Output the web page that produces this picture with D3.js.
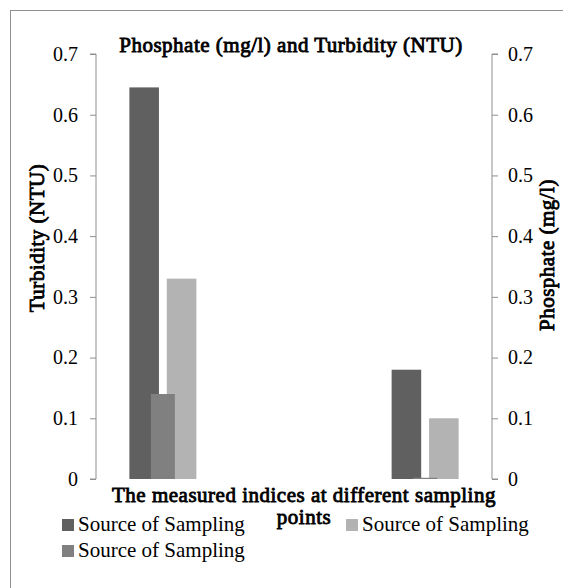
<!DOCTYPE html>
<html>
<head>
<meta charset="utf-8">
<script src="https://cdn.jsdelivr.net/npm/d3@7"></script>
<style>
  body { margin: 0; background: #fff; }
</style>
</head>
<body>
<div id="chart"></div>
<script>
// sampling points (no labels shown on the axis)
const categories = ["Point 1", "Point 2"];
const legendLabels = ["Source of Sampling", "Source of Sampling", "Source of Sampling"];
const darkValues = [0.645, 0.18];     // primary axis
const lightValues = [0.33, 0.10];     // primary axis
const mediumValues = [0.14, 0.002];   // secondary axis, drawn on top
const yTicks = [0, 0.1, 0.2, 0.3, 0.4, 0.5, 0.6, 0.7];

const width = 563, height = 588;
const margin = {top: 54, right: 71, bottom: 109, left: 96};
const serif = "'Liberation Serif', 'Times New Roman', Times, serif";

const colors = {dark: "#606060", medium: "#808080", light: "#b3b3b3"};

const svg = d3.select("#chart").append("svg")
    .attr("width", width)
    .attr("height", height)
    .style("font-family", serif);

// chart border (runs off the right and bottom edges)
svg.append("rect")
    .attr("x", 10.5).attr("y", 10.5)
    .attr("width", 700).attr("height", 700)
    .attr("fill", "none")
    .attr("stroke", "#8f8f8f");

const x = d3.scaleBand()
    .domain(categories)
    .range([margin.left, width - margin.right])
    .paddingInner(0.49)
    .paddingOuter(0);

const yLeft = d3.scaleLinear().domain([0, 0.7]).range([height - margin.bottom, margin.top]);
const yRight = d3.scaleLinear().domain([0, 0.7]).range([height - margin.bottom, margin.top]);

// primary series sit side by side, secondary one sits centred on top
const xPrimary = d3.scaleBand().domain(["dark", "light"]).range([-33.5, 33.5]).paddingInner(0.21);
const xSecondary = d3.scaleBand().domain(["medium"]).range([-12, 12]);

const centre = c => x(c) + x.bandwidth() / 2;

function drawBars(values, key, subScale, yScale) {
    svg.selectAll(".bar-" + key)
        .data(values)
        .enter().append("rect")
        .attr("class", "bar-" + key)
        .attr("x", (d, i) => centre(categories[i]) + subScale(key))
        .attr("width", subScale.bandwidth())
        .attr("y", d => yScale(d))
        .attr("height", d => yScale(0) - yScale(d))
        .attr("fill", colors[key]);
}

drawBars(darkValues, "dark", xPrimary, yLeft);
drawBars(lightValues, "light", xPrimary, yLeft);
drawBars(mediumValues, "medium", xSecondary, yRight);

// axes
const leftAxis = svg.append("g")
    .attr("transform", `translate(${margin.left},0)`)
    .call(d3.axisLeft(yLeft).tickValues(yTicks).tickFormat(d3.format("")).tickSize(6).tickPadding(12));

const rightAxis = svg.append("g")
    .attr("transform", `translate(${width - margin.right},0)`)
    .call(d3.axisRight(yRight).tickValues(yTicks).tickFormat(d3.format("")).tickSize(6).tickPadding(10));

[leftAxis, rightAxis].forEach(a => {
    a.attr("font-family", null).attr("font-size", null);
    a.select(".domain").attr("stroke", "#8f8f8f");
    a.selectAll(".tick line").attr("stroke", "#8f8f8f");
    a.selectAll(".tick text")
        .style("font-family", serif)
        .style("font-size", "20px")
        .attr("fill", "#000");
});
// plain vertical axis lines with the end ticks
leftAxis.select(".domain").attr("d", `M-6,${yLeft(0.7)}H0V${yLeft(0)}H-6`);
rightAxis.select(".domain").attr("d", `M6,${yRight(0.7)}H0V${yRight(0)}H6`);

function label(sel) {
    return sel.style("font-family", serif).style("font-size", "21px").attr("fill", "#000");
}
// the serif bold face is not available, so thicken the regular face
function bold(sel) {
    return label(sel)
        .attr("stroke", "#000")
        .attr("stroke-width", 0.85)
        .attr("letter-spacing", 0.5);
}

// title
bold(svg.append("text"))
    .attr("x", 291).attr("y", 52)
    .attr("text-anchor", "middle")
    .text("Phosphate (mg/l) and Turbidity (NTU)");

// axis titles
bold(svg.append("text"))
    .attr("transform", "translate(44,238) rotate(-90)")
    .attr("text-anchor", "middle")
    .text("Turbidity (NTU)");

bold(svg.append("text"))
    .attr("transform", "translate(554,255) rotate(-90)")
    .attr("text-anchor", "middle")
    .text("Phosphate (mg/l)");

const xTitle = bold(svg.append("text"))
    .attr("x", 304).attr("y", 502)
    .attr("text-anchor", "middle");
xTitle.append("tspan").attr("x", 304).text("The measured indices at different sampling");
xTitle.append("tspan").attr("x", 304).attr("dy", "1.05em").text("points");

// legend
const legendItems = [
    {label: legendLabels[0], key: "dark", x: 62, y: 531},
    {label: legendLabels[2], key: "light", x: 346, y: 531},
    {label: legendLabels[1], key: "medium", x: 62, y: 557}
];
const lg = svg.selectAll(".legend")
    .data(legendItems)
    .enter().append("g")
    .attr("class", "legend")
    .attr("transform", d => `translate(${d.x},${d.y})`);
lg.append("rect")
    .attr("x", 0).attr("y", -12)
    .attr("width", 12).attr("height", 12)
    .attr("fill", d => colors[d.key]);
label(lg.append("text"))
    .attr("x", 16).attr("y", 0)
    .text(d => d.label);
</script>
</body>
</html>
